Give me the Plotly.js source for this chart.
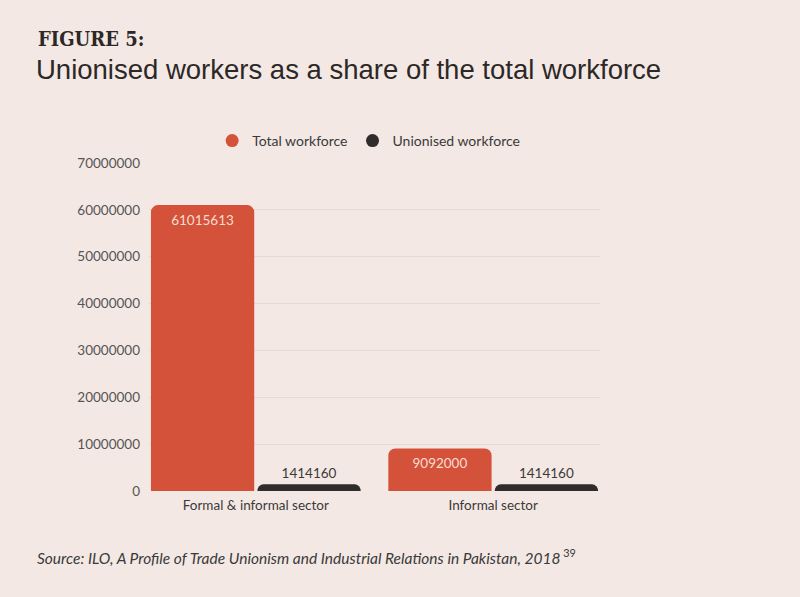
<!DOCTYPE html>
<html>
<head>
<meta charset="utf-8">
<script src="https://cdn.plot.ly/plotly-3.0.1.min.js"></script>
<style>
  html, body { margin: 0; padding: 0; background: #F4E8E4; }
  #myDiv { width: 800px; height: 597px; }
</style>
</head>
<body>
<div id="myDiv"></div>
<script>
// data
let sectores = ["Formal & informal sector", "Informal sector"];
let total_workforce = [61015613, 9092000];
let unionised_workforce = [1414160, 1414160];
let y_ticks = [0, 10000000, 20000000, 30000000, 40000000, 50000000, 60000000, 70000000];
let grid_ticks = [10000000, 20000000, 30000000, 40000000, 50000000, 60000000];

let laranja = "#D4523A";
let escuro = "#2F2C2B";

function desenhaGrafico() {
  let data = [
    {
      x: sectores,
      y: total_workforce,
      name: "Total workforce",
      type: "bar",
      marker: {color: laranja},
      text: total_workforce.map(String),
      textposition: "inside",
      insidetextanchor: "end",
      insidetextfont: {family: "Lato, sans-serif", size: 13.5, color: "#F9DCD2"},
      showlegend: false,
      hoverinfo: "none"
    },
    {
      x: sectores,
      y: unionised_workforce,
      name: "Unionised workforce",
      type: "bar",
      marker: {color: escuro},
      text: unionised_workforce.map(String),
      textposition: "outside",
      outsidetextfont: {family: "Lato, sans-serif", size: 13.5, color: "#3a3a3a"},
      cliponaxis: false,
      showlegend: false,
      hoverinfo: "none"
    },
    // legend only (circle markers)
    {
      x: [null], y: [null], type: "scatter", mode: "markers",
      name: "Total workforce",
      marker: {color: laranja, size: 13, symbol: "circle"}
    },
    {
      x: [null], y: [null], type: "scatter", mode: "markers",
      name: "Unionised workforce",
      marker: {color: escuro, size: 13, symbol: "circle"}
    }
  ];

  let layout = {
    width: 800,
    height: 597,
    paper_bgcolor: "#F4E8E4",
    plot_bgcolor: "#F4E8E4",
    margin: {l: 149, r: 200, t: 163, b: 106, pad: 0},
    barmode: "group",
    bargap: 0.103,
    bargroupgap: 0.03,
    barcornerradius: 7,
    title: {
      text: "Unionised workers as a share of the total workforce",
      font: {family: "Liberation Sans Narrow, Arial Narrow, sans-serif", size: 27.5, color: "#2b2827"},
      x: 36 / 800, xanchor: "left", xref: "container",
      y: 1 - 69 / 597, yanchor: "middle", yref: "container"
    },
    showlegend: true,
    legend: {
      orientation: "h",
      x: 0.487, xanchor: "center",
      y: 1.067, yanchor: "middle",
      font: {family: "Lato, sans-serif", size: 14, color: "#3a3a3a"},
      bgcolor: "rgba(0,0,0,0)",
      itemsizing: "trace"
    },
    xaxis: {
      type: "category",
      range: [-0.45, 1.45],
      showgrid: false,
      zeroline: false,
      showline: false,
      ticks: "",
      ticklabelstandoff: 4,
      tickfont: {family: "Lato, sans-serif", size: 13.5, color: "#3a3a3a"},
      fixedrange: true
    },
    yaxis: {
      range: [0, 70000000],
      tickmode: "array",
      tickvals: y_ticks,
      ticktext: y_ticks.map(String),
      showgrid: false,
      zeroline: false,
      showline: false,
      ticks: "",
      ticklabelstandoff: 8,
      tickfont: {family: "Lato, sans-serif", size: 13.5, color: "#555555"},
      minor: {
        tickmode: "array",
        tickvals: grid_ticks,
        showgrid: true,
        gridcolor: "rgba(120,90,80,0.10)",
        gridwidth: 1,
        ticks: ""
      },
      fixedrange: true
    },
    annotations: [
      {
        text: "<b>FIGURE 5:</b>",
        xref: "paper", yref: "paper",
        x: (36 - 149) / 451, xanchor: "left",
        y: (491 - 39) / 328, yanchor: "middle",
        showarrow: false,
        font: {family: "DejaVu Serif Condensed, DejaVu Serif, serif", size: 20, color: "#2b2827"}
      },
      {
        text: "<i>Source: ILO, A Profile of Trade Unionism and Industrial Relations in Pakistan, 2018</i><sup> 39</sup>",
        xref: "paper", yref: "paper",
        x: (35 - 149) / 451, xanchor: "left",
        y: (491 - 556) / 328, yanchor: "middle",
        showarrow: false,
        font: {family: "Lato, sans-serif", size: 15.5, color: "#3a3a3a"}
      }
    ]
  };

  Plotly.newPlot("myDiv", data, layout, {displayModeBar: false, staticPlot: true});
}

(function() {
  desenhaGrafico();
})();
</script>
</body>
</html>
